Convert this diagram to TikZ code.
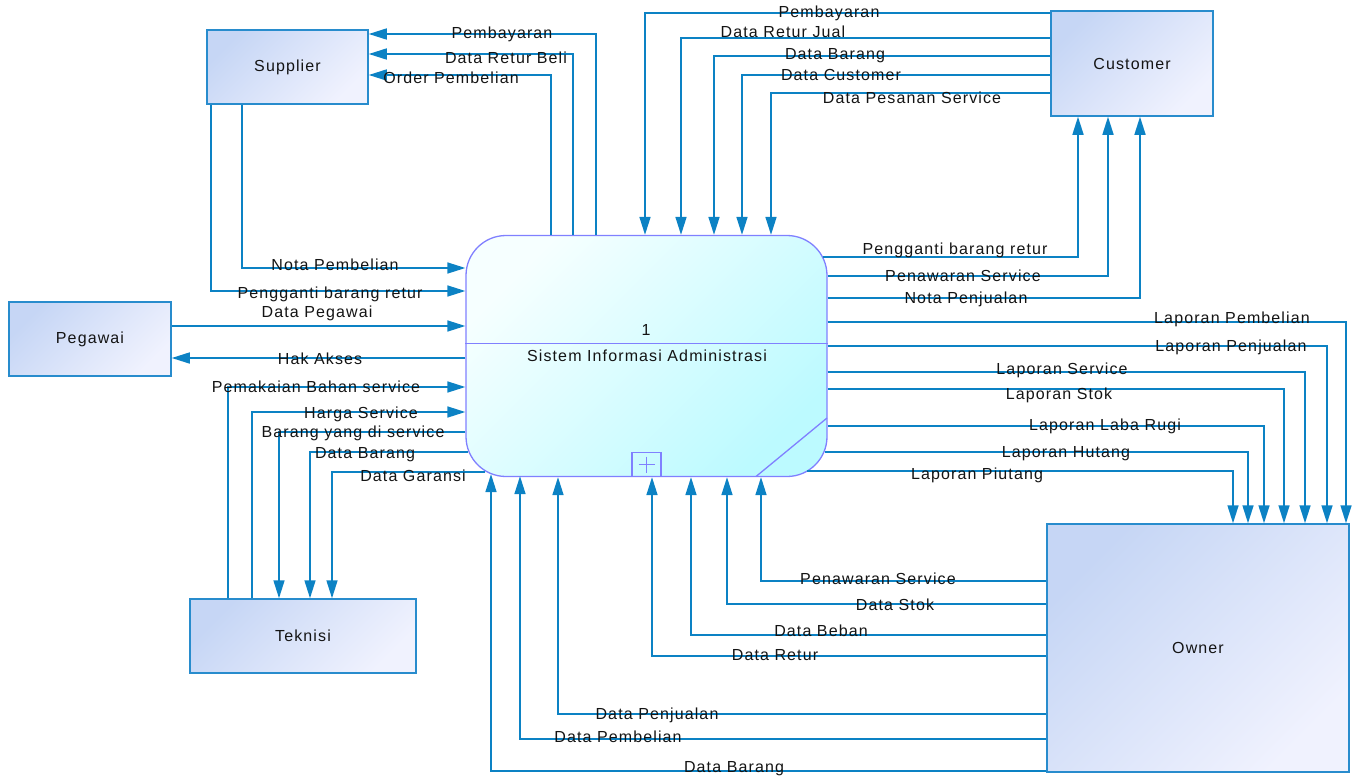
\documentclass[tikz,border=0pt]{standalone}
\usepackage{fontspec}
\setmainfont{Liberation Sans}[LetterSpace=7]
\usetikzlibrary{arrows.meta,calc}
\definecolor{lc}{RGB}{12,130,196}
\definecolor{eb}{RGB}{40,140,205}
\definecolor{efa}{RGB}{198,214,245}
\definecolor{efb}{RGB}{240,242,254}
\definecolor{pfa}{RGB}{246,255,255}
\definecolor{pfb}{RGB}{188,250,255}
\definecolor{pb}{RGB}{128,128,255}
\definecolor{txt}{RGB}{20,20,20}
\begin{document}
\begin{tikzpicture}[x=1pt,y=-1pt,
  every node/.style={font=\fontsize{16}{19}\selectfont, text=txt},
  ent/.style={draw=eb, line width=1.5pt, top color=efa, bottom color=efb, shading angle=45, inner sep=0pt},
  proc/.style={draw=pb, line width=1.3pt, top color=pfa, bottom color=pfb, shading angle=45, rounded corners=40pt, inner sep=0pt, minimum width=361pt, minimum height=241pt},
  flow/.style={draw=lc, line width=1.6pt, -{Triangle[length=18pt,width=11pt]}},
  lbl/.style={inner sep=0pt, anchor=center}]
\useasboundingbox (0,0) rectangle (1356,777);

% entities
\node[ent, minimum width=161pt, minimum height=74pt] (sup) at (287.5,67) {Supplier};
\node[ent, minimum width=162pt, minimum height=105pt] (cus) at (1132,63.5) {Customer};
\node[ent, minimum width=162pt, minimum height=74pt] (peg) at (90,339) {Pegawai};
\node[ent, minimum width=226pt, minimum height=74pt] (tek) at (303,636) {Teknisi};
\node[ent, minimum width=302pt, minimum height=248pt] (own) at (1198,648) {Owner};

% process
\node[proc] (proc) at (646.5,356) {};
\draw[pb, line width=1.3pt] (proc.west |- 0,343.5) -- (proc.east |- 0,343.5);
\node[lbl] (pnum) at (646,330) {1};
\node[lbl] (pname) at (647,356) {Sistem Informasi Administrasi};
\node[draw=pb, line width=1.3pt, minimum width=29pt, minimum height=24pt, inner sep=0pt] (plus) at (646.5,464.5) {};
\draw[pb, line width=1.1pt] ($(plus.center)+(-8,0)$) -- ($(plus.center)+(8,0)$);
\draw[pb, line width=1.1pt] ($(plus.center)+(0,-8)$) -- ($(plus.center)+(0,8)$);
\coordinate (dg1) at (756,476.5);
\coordinate (dg2) at (827,418);
\draw[pb, line width=1.3pt] (dg1) -- (dg2);

% Supplier flows
\draw[flow] (proc.north -| 596,0) |- (sup.east |- 0,34);
\node[lbl] (l1) at (502,34) {Pembayaran};
\draw[flow] (proc.north -| 573,0) |- (sup.east |- 0,54);
\node[lbl] (l2) at (506,58) {Data Retur Beli};
\draw[flow] (proc.north -| 551,0) |- (sup.east |- 0,75);
\node[lbl] (l3) at (451,78) {Order Pembelian};
\draw[flow] (sup.south -| 242,0) |- (proc.west |- 0,268);
\node[lbl] (l4) at (335,265) {Nota Pembelian};
\draw[flow] (sup.south -| 211,0) |- (proc.west |- 0,291);
\node[lbl] (l5) at (330,294) {Pengganti barang retur};

% Pegawai flows
\draw[flow] (peg.east |- 0,326) -- (proc.west |- 0,326);
\node[lbl] (l6) at (317,313) {Data Pegawai};
\draw[flow] (proc.west |- 0,358) -- (peg.east |- 0,358);
\node[lbl] (l7) at (320,359) {Hak Akses};

% Teknisi flows
\draw[flow] (tek.north -| 228,0) |- (proc.west |- 0,387);
\node[lbl] (l8) at (316,387) {Pemakaian Bahan service};
\draw[flow] (tek.north -| 252,0) |- (proc.west |- 0,412);
\node[lbl] (l9) at (361,414) {Harga Service};
\draw[flow] (proc.west |- 0,432) -| (tek.north -| 279,0);
\node[lbl] (l10) at (353,433) {Barang yang di service};
\draw[flow] ($(proc.west |- 0,452)+(3,0)$) -| (tek.north -| 310,0);
\node[lbl] (l11) at (365,455) {Data Barang};
\draw[flow] ($(proc.west |- 0,472)+(20,0)$) -| (tek.north -| 332,0);
\node[lbl] (l12) at (413,476) {Data Garansi};

% Customer flows into process
\draw[flow] (cus.west |- 0,13) -| (proc.north -| 645,0);
\node[lbl] (l13) at (829,13) {Pembayaran};
\draw[flow] (cus.west |- 0,38) -| (proc.north -| 681,0);
\node[lbl] (l14) at (783,32) {Data Retur Jual};
\draw[flow] (cus.west |- 0,56) -| (proc.north -| 714,0);
\node[lbl] (l15) at (835,56) {Data Barang};
\draw[flow] (cus.west |- 0,75) -| (proc.north -| 742,0);
\node[lbl] (l16) at (841,75) {Data Customer};
\draw[flow] (cus.west |- 0,93) -| (proc.north -| 771,0);
\node[lbl] (l17) at (912,98) {Data Pesanan Service};

% process to Customer
\draw[flow] ($(proc.east |- 0,257)+(-5,0)$) -| (cus.south -| 1078,0);
\node[lbl] (l18) at (955,250) {Pengganti barang retur};
\draw[flow] (proc.east |- 0,276) -| (cus.south -| 1108,0);
\node[lbl] (l19) at (963,276) {Penawaran Service};
\draw[flow] (proc.east |- 0,298) -| (cus.south -| 1140,0);
\node[lbl] (l20) at (966,299) {Nota Penjualan};

% process to Owner
\draw[flow] (proc.east |- 0,322) -| (own.north -| 1346,0);
\node[lbl] (l21) at (1232,319) {Laporan Pembelian};
\draw[flow] (proc.east |- 0,346) -| (own.north -| 1327,0);
\node[lbl] (l22) at (1231,347) {Laporan Penjualan};
\draw[flow] (proc.east |- 0,372) -| (own.north -| 1305,0);
\node[lbl] (l23) at (1062,370) {Laporan Service};
\draw[flow] (proc.east |- 0,389) -| (own.north -| 1284,0);
\node[lbl] (l24) at (1059,395) {Laporan Stok};
\draw[flow] (proc.east |- 0,426) -| (own.north -| 1264,0);
\node[lbl] (l25) at (1105,426) {Laporan Laba Rugi};
\draw[flow] ($(proc.east |- 0,452)+(-3,0)$) -| (own.north -| 1248,0);
\node[lbl] (l26) at (1066,454) {Laporan Hutang};
\draw[flow] ($(proc.east |- 0,471)+(-21,0)$) -| (own.north -| 1233,0);
\node[lbl] (l27) at (977,475) {Laporan Piutang};

% Owner to process
\draw[flow] (own.west |- 0,581) -| (proc.south -| 761,0);
\node[lbl] (l28) at (878,579) {Penawaran Service};
\draw[flow] (own.west |- 0,604) -| (proc.south -| 727,0);
\node[lbl] (l29) at (895,605) {Data Stok};
\draw[flow] (own.west |- 0,635) -| (proc.south -| 691,0);
\node[lbl] (l30) at (821,631) {Data Beban};
\draw[flow] (own.west |- 0,656) -| (proc.south -| 652,0);
\node[lbl] (l31) at (775,655) {Data Retur};
\draw[flow] (own.west |- 0,714) -| (proc.south -| 558,0);
\node[lbl] (l32) at (657,715) {Data Penjualan};
\draw[flow] (own.west |- 0,739) -| ($(proc.south -| 520,0)+(0,-1)$);
\node[lbl] (l33) at (618,737) {Data Pembelian};
\draw[flow] (own.west |- 0,771) -| ($(proc.south -| 491,0)+(0,-3)$);
\node[lbl] (l34) at (734,769) {Data Barang};
\end{tikzpicture}
\end{document}
